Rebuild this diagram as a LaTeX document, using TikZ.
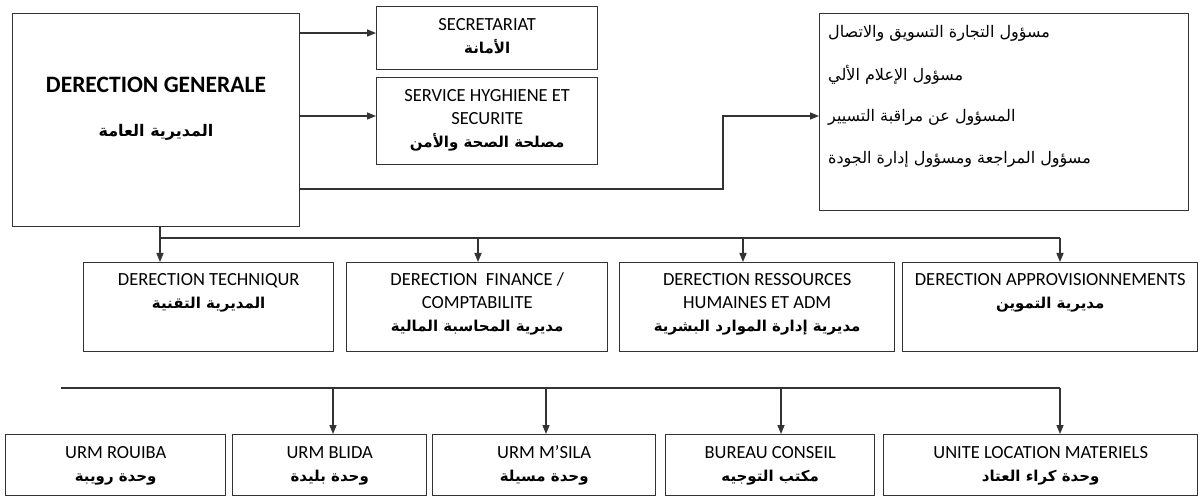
\documentclass[tikz,border=0pt]{standalone}
\usepackage{fontspec}
\setmainfont{Carlito}
\newfontfamily\arbfont[Script=Arabic]{DejaVu Sans}
\TeXXeTstate=1
\usetikzlibrary{arrows.meta}
\newcommand{\arbB}[1]{{\arbfont\bfseries\fontsize{15}{23}\selectfont\beginR #1\endR}}
\newcommand{\arbBig}[1]{{\arbfont\bfseries\fontsize{16}{23}\selectfont\beginR #1\endR}}
\newcommand{\arbR}[1]{{\arbfont\fontsize{16}{20}\selectfont\beginR #1\endR}}
\newcommand{\mytop}{\rule{0pt}{16pt}}
\definecolor{linec}{HTML}{333333}
\begin{document}
\begin{tikzpicture}[x=1pt,y=-1pt,
  box/.style={draw=linec, line width=1.4pt, inner sep=0pt, anchor=north west},
  sz/.style 2 args={minimum width=#1pt, minimum height=#2pt},
  txt/.style={inner sep=0pt, align=center, anchor=north, font=\fontsize{18.5}{23}\selectfont},
  conn/.style={draw=linec, line width=1.4pt},
  arr/.style={conn, -{Triangle[length=9pt,width=7pt]}}]
\useasboundingbox (0,0) rectangle (1200,497);
% boxes
\node[box, sz={287}{213}] (dg) at (12,13) {};
\node[box, sz={221}{63}] (sec) at (376,6) {};
\node[box, sz={221}{87}] (svc) at (376,77) {};
\node[box, sz={369}{197}] (resp) at (819,13) {};
\node[box, sz={250}{89}] (dt) at (83,262) {};
\node[box, sz={261}{89}] (df) at (346,262) {};
\node[box, sz={275}{89}] (dr) at (619,262) {};
\node[box, sz={295}{89}] (da) at (902,262) {};
\node[box, sz={220}{61}] (u1) at (5,434) {};
\node[box, sz={194}{61}] (u2) at (232,434) {};
\node[box, sz={223}{61}] (u3) at (432,434) {};
\node[box, sz={209}{61}] (u4) at (665,434) {};
\node[box, sz={314}{61}] (u5) at (883,434) {};
% texts
\node[inner sep=0pt, font=\bfseries\fontsize{23.5}{28}\selectfont] (dg-t) at (156,85) {DERECTION GENERALE};
\node[inner sep=0pt] (dg-a) at (156,132) {\arbBig{المديرية العامة}};
\node[txt, yshift=-8pt] (sec-t) at (sec.north) {\mytop SECRETARIAT\\\arbB{الأمانة}};
\node[txt, yshift=-8pt] (svc-t) at (svc.north) {\mytop SERVICE HYGHIENE ET\\SECURITE\\\arbB{مصلحة الصحة والأمن}};
\node[inner sep=0pt, anchor=west] (r1) at (828,33) {\arbR{مسؤول التجارة التسويق والاتصال}};
\node[inner sep=0pt, anchor=west] (r2) at (828,75) {\arbR{مسؤول الإعلام الألي}};
\node[inner sep=0pt, anchor=west] (r3) at (828,117) {\arbR{المسؤول عن مراقبة التسيير}};
\node[inner sep=0pt, anchor=west] (r4) at (828,159) {\arbR{مسؤول المراجعة ومسؤول إدارة الجودة}};
\node[txt, yshift=-7pt] (dt-t) at (dt.north) {\mytop DERECTION TECHNIQUR\\\arbB{المديرية التقنية}};
\node[txt, yshift=-7pt] (df-t) at (df.north) {\mytop DERECTION\ \ FINANCE /\\COMPTABILITE\\\arbB{مديرية المحاسبة المالية}};
\node[txt, yshift=-7pt] (dr-t) at (dr.north) {\mytop DERECTION RESSOURCES\\HUMAINES ET ADM\\\arbB{مديرية إدارة الموارد البشرية}};
\node[txt, yshift=-7pt] (da-t) at (da.north) {\mytop DERECTION APPROVISIONNEMENTS\\\arbB{مديرية التموين}};
\node[txt, yshift=-8pt] (u1-t) at (u1.north) {\mytop URM ROUIBA\\\arbB{وحدة رويبة}};
\node[txt, yshift=-8pt] (u2-t) at (u2.north) {\mytop URM BLIDA\\\arbB{وحدة بليدة}};
\node[txt, yshift=-8pt] (u3-t) at (u3.north) {\mytop URM M’SILA\\\arbB{وحدة مسيلة}};
\node[txt, yshift=-8pt] (u4-t) at (u4.north) {\mytop BUREAU CONSEIL\\\arbB{مكتب التوجيه}};
\node[txt, yshift=-8pt] (u5-t) at (u5.north) {\mytop UNITE LOCATION MATERIELS\\\arbB{وحدة كراء العتاد}};
% connectors top
\draw[arr] (dg.east |- 0,33) -- (sec.west |- 0,33);
\draw[arr] (dg.east |- 0,116) -- (svc.west |- 0,116);
\coordinate (k) at (723,116);
\draw[arr] (dg.east |- 0,189) -| (k) -- (resp.west |- k);
% middle bus
\coordinate (b1) at (160,238);
\coordinate (b2) at (478,238);
\coordinate (b3) at (743,238);
\coordinate (b4) at (1060,238);
\draw[conn] (dg.south -| b1) -- (b1) -- (b4);
\draw[arr] (b1) -- (b1 |- dt.north);
\draw[arr] (b2) -- (b2 |- df.north);
\draw[arr] (b3) -- (b3 |- dr.north);
\draw[arr] (b4) -- (b4 |- da.north);
% bottom bus
\coordinate (c0) at (61,388);
\coordinate (c1) at (333,388);
\coordinate (c2) at (546,388);
\coordinate (c3) at (781,388);
\coordinate (c4) at (1060,388);
\draw[conn] (c0) -- (c4);
\draw[arr] (c1) -- (c1 |- u2.north);
\draw[arr] (c2) -- (c2 |- u3.north);
\draw[arr] (c3) -- (c3 |- u4.north);
\draw[arr] (c4) -- (c4 |- u5.north);
\end{tikzpicture}
\end{document}
